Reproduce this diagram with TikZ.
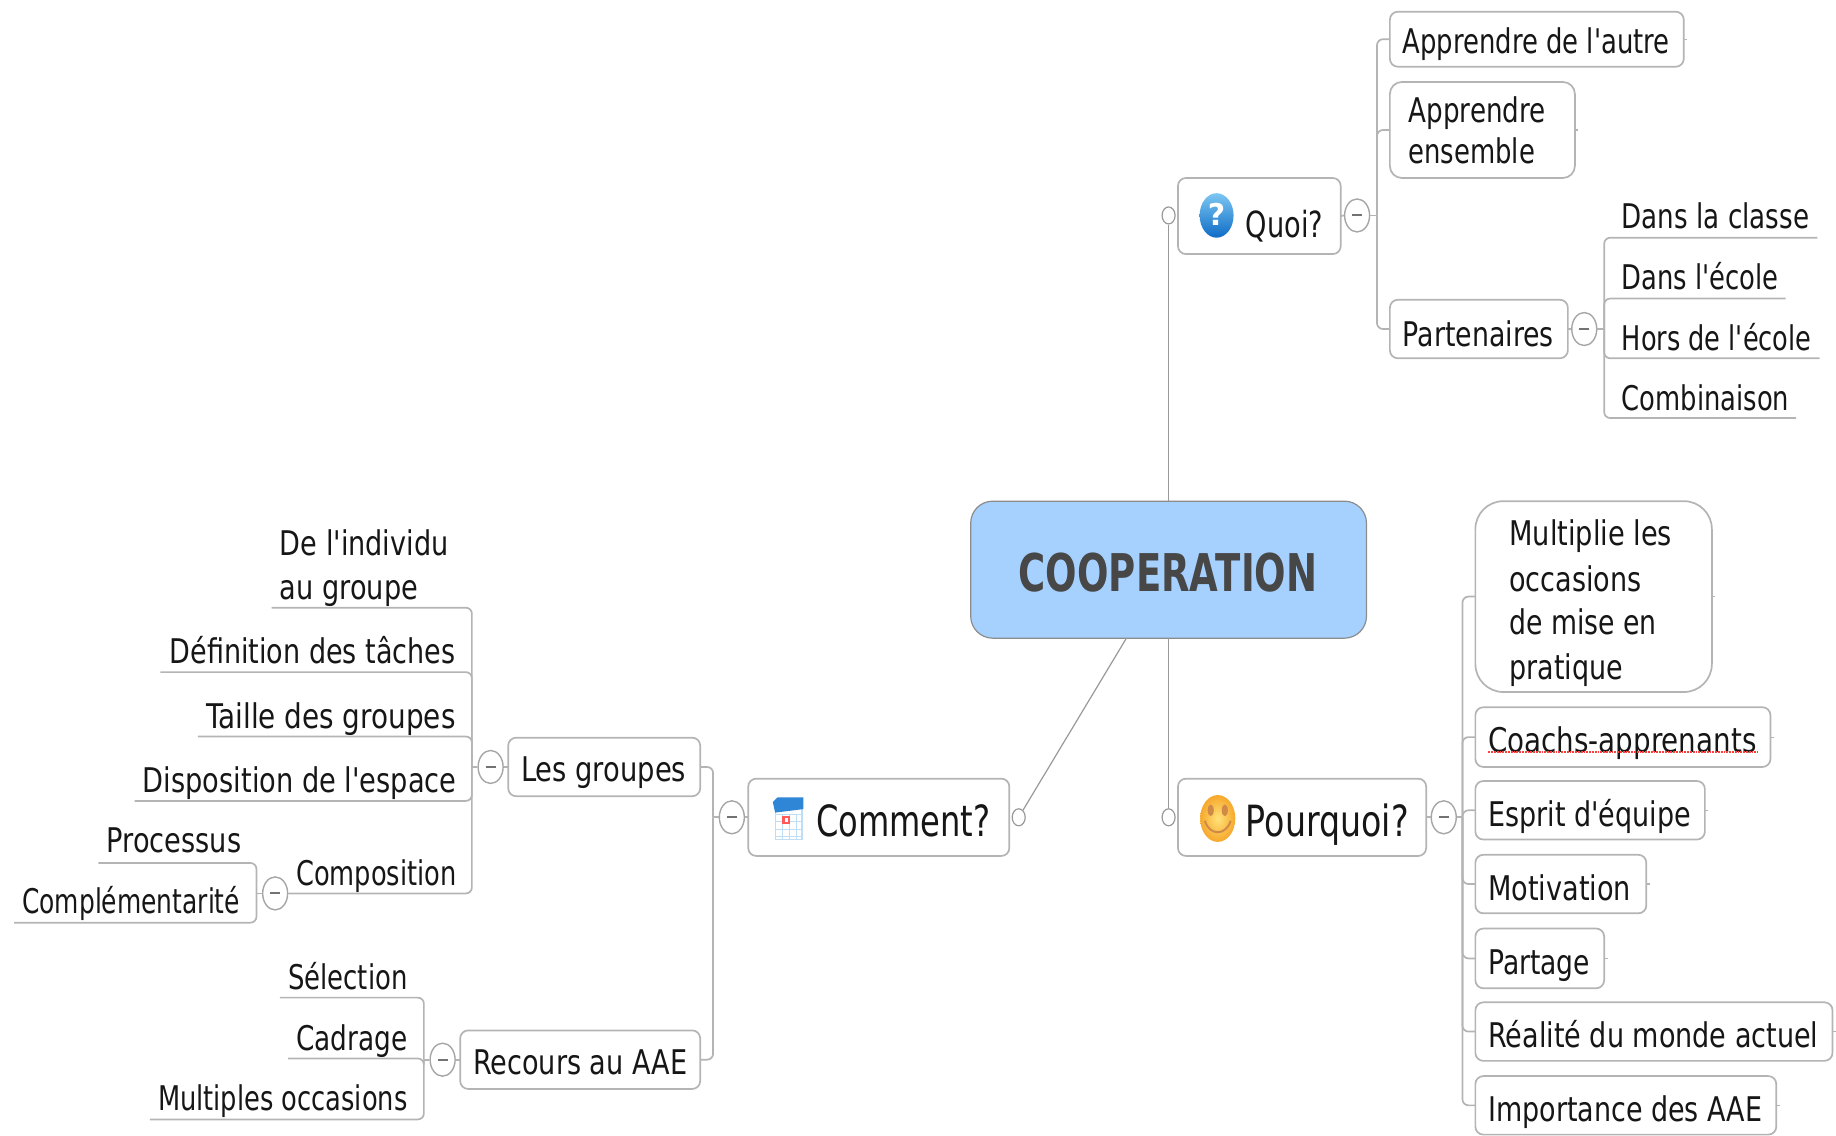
\documentclass[tikz,border=0pt]{standalone}
\usepackage{graphicx}
\usepackage{fontspec}
\newfontfamily\lgf{DejaVu Sans}
\usetikzlibrary{shapes.geometric,calc}
\definecolor{lnc}{HTML}{B4B4B4}
\definecolor{txc}{HTML}{161616}
\definecolor{rootfill}{HTML}{A6D1FF}
\definecolor{qtop}{HTML}{7CC6F2}
\definecolor{qbot}{HTML}{0E6CC6}
\definecolor{smin}{HTML}{FFE27A}
\definecolor{smout}{HTML}{F6A82C}
\definecolor{smfc}{HTML}{CF8A48}
\definecolor{caltop}{HTML}{2F86D6}
\definecolor{calgrid}{HTML}{BFDDF4}
\newcommand\Tx[2]{\resizebox{\dimexpr#1pt*1171/1000\relax}{\height}{#2}}
\newcommand\tn[9][]{% style, name, x0,y0,x1,y1, textx, base, content
  \pgfmathsetmacro\tnCx{(#3+#5)/2}\pgfmathsetmacro\tnCy{(#4+#6)/2}%
  \pgfmathsetmacro\tnW{(#5-#3)*1.171}\pgfmathsetmacro\tnH{(#6-#4)*1.171}%
  \pgfmathsetmacro\tnUp{(#8-#4)*1.171}\pgfmathsetmacro\tnDn{(#6-#8)*1.171}%
  \pgfmathsetmacro\tnD{(#7-\tnCx)*1.171}%
  \node[#1,minimum width=\tnW pt,minimum height=\tnH pt,text height=\tnUp pt,text depth=\tnDn pt] (#2) at (\tnCx,\tnCy) {\makebox[0pt][l]{\hspace*{\tnD pt}#9}};}
% stacks earlier lines above the last one
\newcommand\upl[2]{\rlap{\raisebox{\dimexpr#1pt*1171/1000\relax}{#2}}}
\tikzset{
  basetx/.style={inner sep=0pt,outer sep=0pt,text=txc},
  subtx/.style={basetx,font=\lgf\fontsize{34}{40}\selectfont},
  topicbox/.style={subtx,draw=lnc,fill=white,line width=1.7pt,rounded corners=8pt},
  bigtopic/.style={topicbox,font=\lgf\fontsize{43}{50}\selectfont},
  quoibox/.style={topicbox,font=\lgf\fontsize{36}{42}\selectfont},
  rootbox/.style={basetx,draw=black!45,fill=rootfill,line width=1.2pt,rounded corners=22pt,font=\lgf\bfseries\fontsize{52}{60}\selectfont,text=black!72},
  conn/.style={draw=lnc,line width=1.7pt,rounded corners=6pt},
  rootconn/.style={draw=black!40,line width=1.2pt},
  fold/.style={ellipse,draw=black!35,fill=white,line width=1.4pt,minimum width=25pt,minimum height=33pt,inner sep=0pt,
    path picture={\draw[black!55,line width=2pt] ([xshift=-5pt]path picture bounding box.center) -- ([xshift=5pt]path picture bounding box.center);}},
  knob/.style={ellipse,draw=black!40,fill=white,line width=1.2pt,minimum width=13pt,minimum height=17pt,inner sep=0pt},
}
\begin{document}
\begin{tikzpicture}[x=1.171pt,y=-1.171pt]
\useasboundingbox (0,0) rectangle (1568,970);
% root
\tn[rootbox]{root}{829}{428}{1167}{545}{870}{505}{\Tx{255}{COOPERATION}}
\coordinate (rootc) at (962,545);
% main topics
\tn[quoibox]{quoi}{1006}{152}{1145}{217}{1064}{203}{\Tx{66}{Quoi?}}
\tn[bigtopic]{pourquoi}{1006}{665}{1218}{731}{1064}{714}{\Tx{139}{Pourquoi?}}
\tn[bigtopic]{comment}{639}{665}{862}{731}{697}{714}{\Tx{149}{Comment?}}
% knobs
\node[knob] (kq) at (998,184) {};
\node[knob] (kp) at (998,698) {};
\node[knob] (kc) at (870,698) {};
\draw[rootconn] (root.north) -- (kq.south);
\draw[rootconn] (root.south) -- (kp.north);
\draw[rootconn] (rootc) -- (kc);
% ===== Quoi
\node[fold] (fq) at (1159,184) {};
\coordinate (tq) at (1176,184);
\draw[conn] (quoi.east) -- (fq.west);
\draw[conn] (fq.east) -- (tq);
\tn[topicbox]{q1}{1187}{10}{1438}{57}{1198}{46}{\Tx{228}{Apprendre de l'autre}}
\tn[topicbox,rounded corners=12pt]{q2}{1187}{70}{1345}{152}{1203}{140}{\upl{35}{\Tx{117}{Apprendre}}\Tx{108}{ensemble}}
\tn[topicbox]{q3}{1187}{256}{1339}{306}{1198}{296}{\Tx{129}{Partenaires}}
\foreach \n in {q1,q2,q3}{\draw[conn] (\n.west) -| (tq);}
\foreach \n in {q1,q2}{\draw[lnc,line width=1.2pt] (\n.east) -- ++(3,0);}
\node[fold] (fa) at (1353,281) {};
\coordinate (ta) at (1370,281);
\draw[conn] (q3.east) -- (fa.west);
\draw[conn] (fa.east) -- (ta);
\tn[subtx]{a1}{1370}{170}{1552}{203}{1385}{195}{\Tx{160}{Dans la classe}}
\tn[subtx]{a2}{1370}{222}{1525}{255}{1385}{247}{\Tx{134}{Dans l'école}}
\tn[subtx]{a3}{1370}{273}{1554}{306}{1385}{299}{\Tx{162}{Hors de l'école}}
\tn[subtx]{a4}{1370}{324}{1534}{357}{1385}{351}{\Tx{143}{Combinaison}}
\foreach \n in {a1,a2,a3,a4}{\draw[conn] (\n.south east) -| (ta);}
% ===== Pourquoi
\node[fold] (fp) at (1233,698) {};
\coordinate (tp) at (1249,698);
\draw[conn] (pourquoi.east) -- (fp.west);
\draw[conn] (fp.east) -- (tp);
\tn[topicbox,rounded corners=28pt]{p1}{1260}{428}{1462}{591}{1289}{580}{\upl{114}{\Tx{139}{Multiplie les}}\upl{75}{\Tx{113}{occasions}}\upl{38}{\Tx{126}{de mise en}}\Tx{97}{pratique}}
\tn[topicbox]{p2}{1260}{604}{1512}{655}{1271}{643}{\Tx{229}{Coachs-apprenants}}
\tn[topicbox]{p3}{1260}{667}{1456}{717}{1271}{706}{\Tx{173}{Esprit d'équipe}}
\tn[topicbox]{p4}{1260}{730}{1406}{780}{1271}{769}{\Tx{122}{Motivation}}
\tn[topicbox]{p5}{1260}{793}{1370}{844}{1271}{832}{\Tx{87}{Partage}}
\tn[topicbox]{p6}{1260}{856}{1565}{906}{1271}{895}{\Tx{282}{Réalité du monde actuel}}
\tn[topicbox]{p7}{1260}{919}{1517}{969}{1271}{958}{\Tx{234}{Importance des AAE}}
\foreach \n in {p1,p2,p3,p4,p5,p6,p7}{\draw[conn] (\n.west) -| (tp); \draw[lnc,line width=1.2pt] (\n.east) -- ++(3,0);}
\draw[red!75,line width=1.8pt,densely dotted] ([xshift=13pt,yshift=-15pt]p2.west) -- ([xshift=-13pt,yshift=-15pt]p2.east);
% ===== Comment
\node[fold] (fc) at (625,698) {};
\coordinate (tc) at (609,698);
\draw[conn] (comment.west) -- (fc.east);
\draw[conn] (fc.west) -- (tc);
\tn[topicbox]{c1}{434}{630}{598}{680}{445}{667}{\Tx{141}{Les groupes}}
\tn[topicbox]{c2}{393}{880}{598}{930}{404}{918}{\Tx{183}{Recours au AAE}}
\foreach \n in {c1,c2}{\draw[conn] (\n.east) -| (tc);}
% Les groupes
\node[fold] (fg) at (419,655) {};
\coordinate (tg) at (403,655);
\draw[conn] (c1.west) -- (fg.east);
\draw[conn] (fg.west) -- (tg);
\tn[subtx]{g1}{232}{485}{403}{519}{239}{512}{\upl{38}{\Tx{144}{De l'individu}}\Tx{118}{au groupe}}
\tn[subtx]{g2}{137}{540}{403}{574}{145}{567}{\Tx{244}{Définition des tâches}}
\tn[subtx]{g3}{169}{595}{403}{629}{176}{622}{\Tx{213}{Taille des groupes}}
\tn[subtx]{g4}{115}{650}{403}{684}{122}{677}{\Tx{268}{Disposition de l'espace}}
\tn[subtx]{g5}{247}{729}{403}{763}{253}{756}{\Tx{137}{Composition}}
\foreach \n in {g1,g2,g3,g4,g5}{\draw[conn] (\n.south west) -| (tg);}
% Composition
\node[fold] (fk) at (235,763) {};
\coordinate (tk) at (219,763);
\draw[conn] (g5.south west) -- (fk.east);
\draw[conn] (fk.west) -- (tk);
\tn[subtx]{k1}{84}{703}{219}{737}{91}{728}{\Tx{115}{Processus}}
\tn[subtx]{k2}{12}{754}{219}{788}{19}{780}{\Tx{186}{Complémentarité}}
\foreach \n in {k1,k2}{\draw[conn] (\n.south west) -| (tk);}
% Recours
\node[fold] (fr) at (378,905) {};
\coordinate (tr) at (362,905);
\draw[conn] (c2.west) -- (fr.east);
\draw[conn] (fr.west) -- (tr);
\tn[subtx]{r1}{239}{818}{362}{852}{246}{845}{\Tx{102}{Sélection}}
\tn[subtx]{r2}{246}{870}{362}{904}{253}{897}{\Tx{95}{Cadrage}}
\tn[subtx]{r3}{128}{922}{362}{956}{135}{948}{\Tx{213}{Multiples occasions}}
\foreach \n in {r1,r2,r3}{\draw[conn] (\n.south west) -| (tr);}
% ===== icons
\shade[top color=qtop,bottom color=qbot] (1039,184) ellipse [x radius=14.5,y radius=19];
\node[inner sep=0pt,text=white,font=\lgf\bfseries\fontsize{30}{34}\selectfont] (iq) at (1039,183) {?};
\shade[inner color=smin,outer color=smout] (1040,699) ellipse [x radius=15,y radius=20];
\fill[smfc] (1034,692) ellipse [x radius=2.6,y radius=5] (1046,692) ellipse [x radius=2.6,y radius=5];
\draw[smfc,line width=2pt] (1029,701) .. controls (1033,714) and (1047,714) .. (1051,701);
\fill[white] (662,689) rectangle (685,717);
\foreach \i in {662,668,674,680}{\draw[calgrid,line width=1pt] (\i,695) -- (\i,717);}
\foreach \j in {696,702,708,714}{\draw[calgrid,line width=1pt] (662,\j) -- (685,\j);}
\draw[calgrid,line width=1.2pt] (662,689) rectangle (685,717);
\fill[caltop] (660,685) -- (664,681) -- (686,681) -- (686,691) -- (662,694) -- cycle;
\fill[red!65] (668,697) rectangle (675,704);
\fill[white] (670,699) rectangle (673,702);
\end{tikzpicture}
\end{document}
